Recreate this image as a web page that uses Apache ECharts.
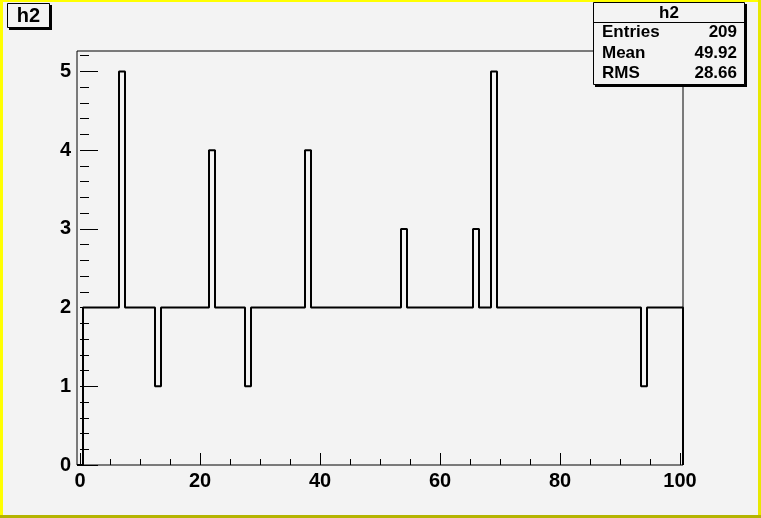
<!DOCTYPE html>
<html><head><meta charset="utf-8">
<script src="https://cdn.jsdelivr.net/npm/echarts@6/dist/echarts.min.js"></script>
<style>html,body{margin:0;padding:0;background:#f3f3f3}#c{width:761px;height:518px}</style>
</head><body><div id="c"></div><script>
// Histogram h2: 101 bins of width 1 starting at -0.5
const binLow = -0.5;
const binWidth = 1;
const binValues = [
  0,2,2,2,2,2,2,5,2,2,
  2,2,2,1,2,2,2,2,2,2,
  2,2,4,2,2,2,2,2,1,2,
  2,2,2,2,2,2,2,2,4,2,
  2,2,2,2,2,2,2,2,2,2,
  2,2,2,2,3,2,2,2,2,2,
  2,2,2,2,2,2,3,2,2,5,
  2,2,2,2,2,2,2,2,2,2,
  2,2,2,2,2,2,2,2,2,2,
  2,2,2,2,1,2,2,2,2,2,
  2
];
const xMajorTicks = [0,20,40,60,80,100];
const xMinorTicks = [0,5,10,15,20,25,30,35,40,45,50,55,60,65,70,75,80,85,90,95,100];
const yMajorTicks = [0,1,2,3,4,5];
const yMinorTicks = [0,0.2,0.4,0.6,0.8,1,1.2,1.4,1.6,1.8,2,2.2,2.4,2.6,2.8,3,3.2,3.4,3.6,3.8,4,4.2,4.4,4.6,4.8,5,5.2];
const xRange = [-0.5, 100.5];
const yRange = [0, 5.26];
const statsLabels = ['Entries','Mean','RMS'];
const statsValues = ['209','49.92','28.66'];
const histName = 'h2';

// step outline from bin edges
const outline = [];
binValues.forEach((v,i)=>{
  const lo = binLow + i*binWidth, hi = lo + binWidth;
  outline.push([lo, v]); outline.push([hi, v]);
});
outline.unshift([binLow, 0]);
outline.push([binLow + binValues.length*binWidth, 0]);

const FONT = 'Liberation Sans';
const chart = echarts.init(document.getElementById('c'), null, {renderer:'canvas'});
const axisCommon = {
  type:'value', splitLine:{show:false}, axisLine:{show:false}
};
chart.setOption({
  animation:false,
  backgroundColor:'#f3f3f3',
  grid:{left:77, top:51, right:78, bottom:53, show:true, borderColor:'#000', borderWidth:1, backgroundColor:'#f3f3f3'},
  xAxis:[
    Object.assign({}, axisCommon, {min:xRange[0], max:xRange[1],
      axisTick:{show:true, inside:true, length:12, customValues:xMajorTicks, lineStyle:{color:'#000',width:1}},
      axisLabel:{customValues:xMajorTicks, color:'#000', fontFamily:FONT, fontWeight:'bold', fontSize:20, margin:6}}),
    Object.assign({}, axisCommon, {min:xRange[0], max:xRange[1], position:'bottom',
      axisTick:{show:true, inside:true, length:6, customValues:xMinorTicks, lineStyle:{color:'#000',width:1}},
      axisLabel:{show:false}})
  ],
  yAxis:[
    Object.assign({}, axisCommon, {min:yRange[0], max:yRange[1],
      axisTick:{show:true, inside:true, length:18, customValues:yMajorTicks, lineStyle:{color:'#000',width:1}},
      axisLabel:{customValues:yMajorTicks, color:'#000', fontFamily:FONT, fontWeight:'bold', fontSize:20, margin:6}}),
    Object.assign({}, axisCommon, {min:yRange[0], max:yRange[1], position:'left',
      axisTick:{show:true, inside:true, length:9, customValues:yMinorTicks, lineStyle:{color:'#000',width:1}},
      axisLabel:{show:false}})
  ],
  series:[{
    type:'line', xAxisIndex:0, yAxisIndex:0, data:outline, symbol:'none',
    lineStyle:{color:'#000', width:2}, clip:true
  }],
  graphic:[
    // canvas border
    {type:'rect', shape:{x:0,y:0,width:761,height:2}, style:{fill:'#ffff00'}, silent:true},
    {type:'rect', shape:{x:0,y:0,width:3,height:518}, style:{fill:'#ffff00'}, silent:true},
    {type:'rect', shape:{x:758,y:0,width:3,height:518}, style:{fill:'#e8e800'}, silent:true},
    {type:'rect', shape:{x:0,y:515,width:761,height:3}, style:{fill:'#b4b400'}, silent:true},
    // title box
    {type:'rect', shape:{x:9,y:5,width:43,height:25}, style:{fill:'#000'}, silent:true},
    {type:'rect', shape:{x:7.5,y:3.5,width:42,height:24}, style:{fill:'#f3f3f3', stroke:'#000', lineWidth:1}, silent:true},
    {type:'text', x:28.5, y:16, style:{text:histName, fill:'#000', font:'bold 20px "Liberation Sans"', align:'center', verticalAlign:'middle'}, silent:true},
    // stats box
    {type:'rect', shape:{x:595,y:4,width:152,height:83}, style:{fill:'#000'}, silent:true},
    {type:'rect', shape:{x:593.5,y:2.5,width:151,height:82}, style:{fill:'#f3f3f3', stroke:'#000', lineWidth:1}, silent:true},
    {type:'line', shape:{x1:593.5,y1:22.5,x2:744.5,y2:22.5}, style:{stroke:'#000', lineWidth:1}, silent:true},
    {type:'text', x:669, y:13, style:{text:histName, fill:'#000', font:'bold 17px "Liberation Sans"', align:'center', verticalAlign:'middle'}, silent:true},
    {type:'text', x:602, y:32.5, style:{text:statsLabels[0], fill:'#000', font:'bold 17px "Liberation Sans"', align:'left', verticalAlign:'middle'}, silent:true},
    {type:'text', x:602, y:53, style:{text:statsLabels[1], fill:'#000', font:'bold 17px "Liberation Sans"', align:'left', verticalAlign:'middle'}, silent:true},
    {type:'text', x:602, y:73.5, style:{text:statsLabels[2], fill:'#000', font:'bold 17px "Liberation Sans"', align:'left', verticalAlign:'middle'}, silent:true},
    {type:'text', x:737, y:32.5, style:{text:statsValues[0], fill:'#000', font:'bold 17px "Liberation Sans"', align:'right', verticalAlign:'middle'}, silent:true},
    {type:'text', x:737, y:53, style:{text:statsValues[1], fill:'#000', font:'bold 17px "Liberation Sans"', align:'right', verticalAlign:'middle'}, silent:true},
    {type:'text', x:737, y:73.5, style:{text:statsValues[2], fill:'#000', font:'bold 17px "Liberation Sans"', align:'right', verticalAlign:'middle'}, silent:true}
  ]
});
</script></body></html>
